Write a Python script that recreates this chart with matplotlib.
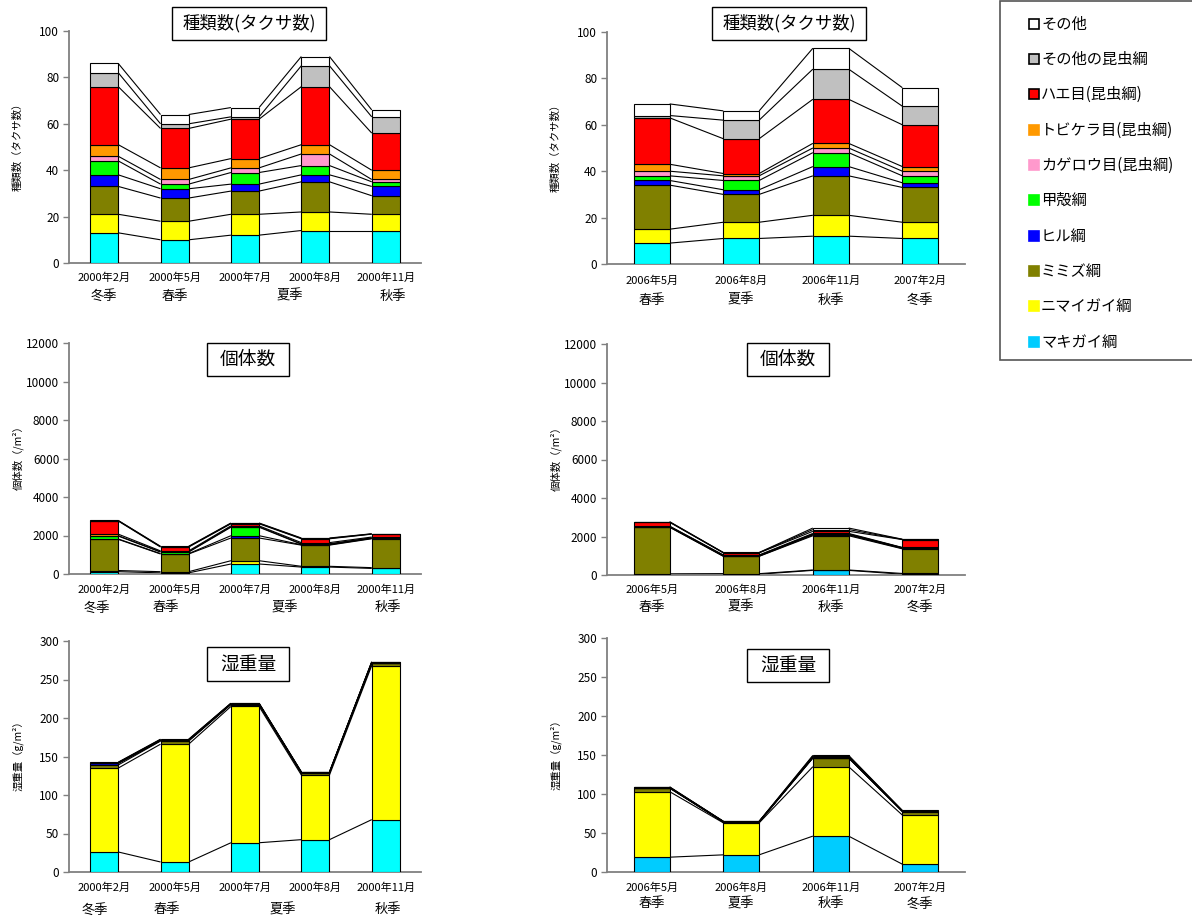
import matplotlib
matplotlib.use("Agg")
import matplotlib.pyplot as plt
from matplotlib.patches import Rectangle
import numpy as np

plt.rcParams['font.family'] = ['Noto Sans CJK JP', 'DejaVu Sans']

W, H = 1192, 917

# ---------------- data ----------------
series_names = ['マキガイ綱', 'ニマイガイ綱', 'ミミズ綱', 'ヒル綱', '甲殻綱',
                'カゲロウ目(昆虫綱)', 'トビケラ目(昆虫綱)', 'ハエ目(昆虫綱)',
                'その他の昆虫綱', 'その他']
series_colors = ['#00FFFF', '#FFFF00', '#808000', '#0000FF', '#00FF00',
                 '#FF99CC', '#FF9900', '#FF0000', '#C0C0C0', '#FFFFFF']
legend_cyan = '#00CCFF'

dates_2000 = ['2000年2月', '2000年5月', '2000年7月', '2000年8月', '2000年11月']
dates_2006 = ['2006年5月', '2006年8月', '2006年11月', '2007年2月']
seasons_2000 = ['冬季', '春季', '夏季', '秋季']
seasons_2006 = ['春季', '夏季', '秋季', '冬季']

# rows follow series_names (bottom -> top)
taxa_2000 = [
    [13, 10, 12, 14, 14],
    [8, 8, 9, 8, 7],
    [12, 10, 10, 13, 8],
    [5, 4, 3, 3, 4],
    [6, 2, 5, 4, 2],
    [2, 2, 2, 5, 1],
    [5, 5, 4, 4, 4],
    [25, 17, 17, 25, 16],
    [6, 2, 1, 9, 7],
    [4, 4, 4, 4, 3],
]
taxa_2006 = [
    [9, 11, 12, 11],
    [6, 7, 9, 7],
    [19, 12, 17, 15],
    [2, 2, 4, 2],
    [2, 4, 6, 3],
    [2, 2, 2, 2],
    [3, 1, 2, 2],
    [20, 15, 19, 18],
    [1, 8, 13, 8],
    [5, 4, 9, 8],
]
ind_2000 = [
    [120, 60, 520, 360, 290],
    [60, 60, 170, 40, 40],
    [1620, 920, 1180, 1100, 1500],
    [20, 20, 120, 20, 20],
    [150, 80, 440, 30, 20],
    [20, 20, 30, 20, 10],
    [80, 40, 40, 60, 40],
    [680, 200, 110, 200, 150],
    [20, 20, 20, 20, 10],
    [10, 20, 20, 20, 10],
]
ind_2006 = [
    [30, 40, 240, 40],
    [30, 30, 20, 40],
    [2420, 900, 1780, 1280],
    [10, 10, 40, 20],
    [20, 30, 30, 30],
    [10, 10, 20, 10],
    [20, 20, 30, 10],
    [200, 110, 110, 410],
    [10, 10, 90, 10],
    [20, 10, 80, 10],
]
wet_2000 = [
    [26, 13, 38, 42, 68],
    [109, 153, 177, 84, 200],
    [4, 4, 2.5, 2.5, 3],
    [2, 0.5, 0.3, 0.3, 0.3],
    [0.3, 0.3, 0.3, 0.3, 0.3],
    [0.1, 0.1, 0.1, 0.1, 0.1],
    [0.3, 0.3, 0.3, 0.2, 0.3],
    [0.3, 0.5, 0.3, 0.3, 0.5],
    [0.2, 0.3, 0.2, 0.2, 0.2],
    [0.5, 0.5, 0.3, 0.3, 0.5],
]
wet_2006 = [
    [19, 22, 46, 10],
    [84, 41, 89, 63],
    [4.5, 1, 11, 4.5],
    [0.2, 0.2, 0.3, 0.2],
    [0.2, 0.2, 0.3, 0.2],
    [0.1, 0.1, 0.1, 0.1],
    [0.2, 0.1, 0.3, 0.2],
    [0.4, 0.2, 0.5, 0.3],
    [0.2, 0.1, 1.2, 0.1],
    [0.4, 0.2, 0.8, 0.3],
]

fig = plt.figure(figsize=(W / 100, H / 100), dpi=100)


def px_axes(x0, y0, x1, y1):
    return fig.add_axes([x0 / W, 1 - y1 / H, (x1 - x0) / W, (y1 - y0) / H])


def draw_chart(box, data, dates, seasons, season_x, ymax, ystep, cyan,
               date_dy, season_dy, ylabel, title, tbox):
    ax = px_axes(*box)
    n = len(dates)
    x = np.arange(n)
    bw = 0.4
    vals = np.array(data, dtype=float)
    cum = np.cumsum(vals, axis=0)
    bottoms = cum - vals
    for k in range(vals.shape[0]):
        col = cyan if k == 0 else series_colors[k]
        ax.bar(x, vals[k], bw, bottom=bottoms[k], color=col,
               edgecolor='black', linewidth=0.8, zorder=3)
    for k in range(vals.shape[0]):
        for i in range(n - 1):
            ax.plot([x[i] + bw / 2, x[i + 1] - bw / 2],
                    [cum[k, i], cum[k, i + 1]], color='black', lw=0.8,
                    zorder=2, solid_capstyle='butt')
    ax.set_xlim(-0.5, n - 0.5)
    ax.set_ylim(0, ymax)
    ax.set_yticks(np.arange(0, ymax + ystep / 2, ystep))
    ax.set_xticks([])
    for s in ['top', 'right']:
        ax.spines[s].set_visible(False)
    for s in ['left', 'bottom']:
        ax.spines[s].set_color('#808080')
        ax.spines[s].set_linewidth(1.3)
    ax.tick_params(axis='y', direction='out', length=4, width=1,
                   color='#808080', labelsize=8.5, pad=3)
    tr = ax.get_xaxis_transform()
    for i, d in enumerate(dates):
        ax.annotate(d, xy=(x[i], 0), xycoords=tr, xytext=(0, -date_dy * 0.72),
                    textcoords='offset points', ha='center', va='center',
                    fontsize=8)
    for sx, s in zip(season_x, seasons):
        ax.annotate(s, xy=(sx, 0), xycoords=tr, xytext=(0, -season_dy * 0.72),
                    textcoords='offset points', ha='center', va='center',
                    fontsize=9.5)
    # y label
    fig.text((box[0] - 51) / W, 1 - ((box[1] + box[3]) / 2 - 3) / H, ylabel,
             rotation=90, ha='center', va='center', fontsize=7.5)
    # title box
    tx0, ty0, tx1, ty1, fs = tbox
    fig.patches.append(Rectangle((tx0 / W, 1 - ty1 / H), (tx1 - tx0) / W,
                                 (ty1 - ty0) / H, transform=fig.transFigure,
                                 facecolor='white', edgecolor='black', lw=1,
                                 zorder=5))
    fig.text((tx0 + tx1) / 2 / W, 1 - (ty0 + ty1) / 2 / H, title,
             ha='center', va='center', fontsize=fs, zorder=6)
    return ax


LX0, LX1 = 69, 421
RX0, RX1 = 607, 965

draw_chart((LX0, 31, LX1, 263), taxa_2000, dates_2000, seasons_2000,
           [0, 1, 2.64, 4.1], 100, 20, '#00FFFF', 15, 33,
           '種類数（タクサ数）', '種類数(タクサ数)', (172, 7, 326, 40, 12.5))
draw_chart((RX0, 32, RX1, 264), taxa_2006, dates_2006, seasons_2006,
           [0, 1, 2, 3], 100, 20, '#00FFFF', 17, 36,
           '種類数（タクサ数）', '種類数(タクサ数)', (712, 7, 866, 40, 12.5))
draw_chart((LX0, 343, LX1, 574), ind_2000, dates_2000, seasons_2000,
           [-0.11, 0.87, 2.57, 4.03], 12000, 2000, '#00FFFF', 16, 34,
           '個体数（/m²）', '個体数', (207, 343, 289, 376, 13.5))
draw_chart((RX0, 344, RX1, 575), ind_2006, dates_2006, seasons_2006,
           [0, 1, 2, 3], 12000, 2000, legend_cyan, 15, 32,
           '個体数（/m²）', '個体数', (747, 343, 829, 376, 13.5))
draw_chart((LX0, 641, LX1, 872), wet_2000, dates_2000, seasons_2000,
           [-0.13, 0.89, 2.54, 4.03], 300, 50, '#00FFFF', 16, 38,
           '湿重量（g/m²）', '湿重量', (207, 647, 289, 681, 13.5))
draw_chart((RX0, 638, RX1, 872), wet_2006, dates_2006, seasons_2006,
           [0, 1, 2, 3], 300, 50, legend_cyan, 16, 32,
           '湿重量（g/m²）', '湿重量', (747, 649, 829, 682, 13.5))

# ---------------- legend ----------------
fig.patches.append(Rectangle((1000 / W, 1 - 360 / H), 200 / W, 359 / H,
                             transform=fig.transFigure, facecolor='white',
                             edgecolor='#555555', lw=1.2, zorder=1))
leg_y = [24, 59, 94, 130, 165, 200, 236, 271, 306, 342]
order = list(range(len(series_names)))[::-1]
for yy, k in zip(leg_y, order):
    col = legend_cyan if k == 0 else series_colors[k]
    edge = 'black' if k >= 7 else col
    fig.patches.append(Rectangle((1029 / W, 1 - (yy + 5) / H), 10 / W, 10 / H,
                                 transform=fig.transFigure, facecolor=col,
                                 edgecolor=edge, lw=1.2, zorder=2))
    fig.text(1041 / W, 1 - yy / H, series_names[k], ha='left', va='center',
             fontsize=11, zorder=3)

fig.savefig('out.png', dpi=100)
